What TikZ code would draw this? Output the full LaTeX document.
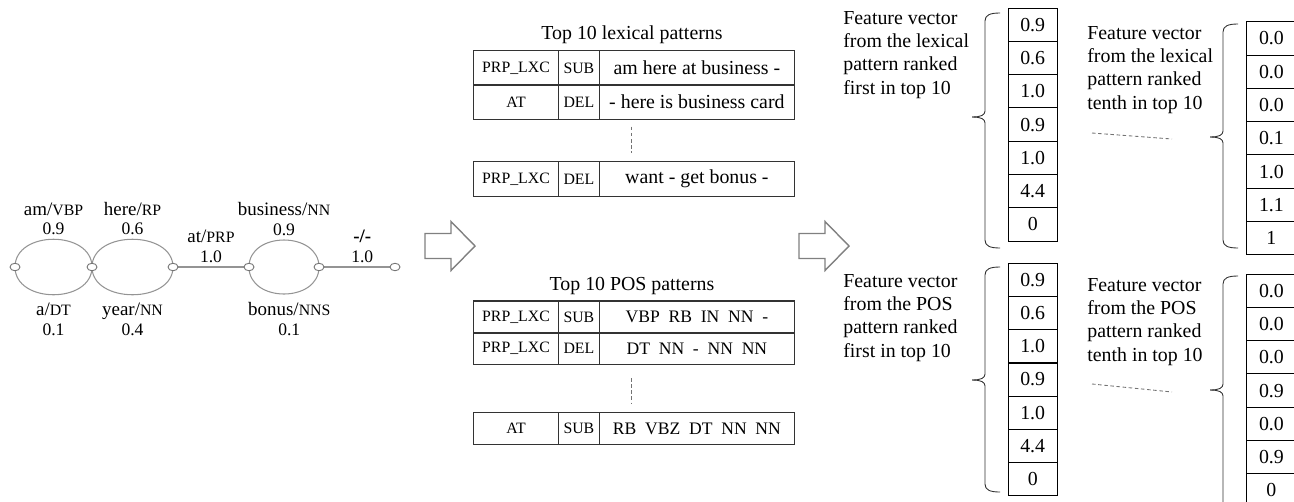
\documentclass[tikz,border=0pt]{standalone}
\usepackage{fontspec}
\setmainfont{Liberation Serif}
\usetikzlibrary{shapes.geometric,backgrounds}

\newcommand{\tagsz}{\fontsize{9}{10}\selectfont}
\newcommand{\wordsz}{\fontsize{10.8}{11.3}\selectfont}
\newcommand{\numsz}{\fontsize{10}{12.3}\selectfont}
\newcommand{\bodysz}{\fontsize{11.3}{13.2}\selectfont}
\newcommand{\possz}{\fontsize{10}{12}\selectfont}

% curly brace with the tip off centre: spine x, top, tip, bottom
\def\vecbrace(#1,#2,#3,#4){%
  \draw[vbrace] (#1+15,#2) .. controls (#1+5,#2) and (#1,#2+2) .. (#1,#2+8)
    -- (#1,#3-6) .. controls (#1,#3-2) and (#1-4,#3) .. (#1-13,#3);
  \draw[vbrace] (#1-13,#3) .. controls (#1-4,#3) and (#1,#3+2) .. (#1,#3+6)
    -- (#1,#4-8) .. controls (#1,#4-2) and (#1+5,#4) .. (#1+15,#4);}

% one row of a pattern table: name, y, height, three cells
\def\patrow#1#2#3#4#5#6{%
  \node[pcell, minimum width=1.7cm, minimum height=#3] (#1-a) at (516,#2) {\tagsz #4};
  \node[pcell, minimum width=0.816cm, minimum height=#3] (#1-b) at (578.9,#2) {\tagsz #5};
  \node[pcell, minimum width=3.904cm, minimum height=#3] (#1-c) at (696.9,#2) {#6};}

\tikzset{
  gnode/.style={ellipse, draw=black!55, fill=white, line width=0.5pt,
    minimum width=0.2cm, minimum height=0.15cm, inner sep=0pt},
  gedge/.style={draw=black!42, line width=0.6pt},
  glab/.style={align=center, inner sep=2pt, font=\wordsz},
  pcell/.style={draw=black!80, line width=0.8pt, inner sep=0pt},
  vcell/.style={draw=black, line width=0.5pt, minimum width=0.98cm,
    minimum height=0.666cm, inner sep=0pt, font=\bodysz},
  ftext/.style={align=left, inner sep=0pt, anchor=west, font=\bodysz},
  vbrace/.style={draw=black!80, line width=0.5pt},
  blockarrow/.style={draw=black!50, fill=white, line width=0.8pt, line join=miter},
  dotsep/.style={draw=black!55, dash pattern=on 2pt off 1.5pt, line width=0.5pt}
}

\begin{document}
\begin{tikzpicture}[x=0.02cm, y=-0.02cm]
			%%%%% START %%%%%
			\useasboundingbox (0,0) rectangle (1294,501);
			
			% word lattice
			\node[gnode] (n0) at (15,267) {};
			\node[gnode] (n1) at (92,267) {};
			\node[gnode] (n2) at (173,267) {};
			\node[gnode] (n3) at (249,267) {};
			\node[gnode] (n4) at (319,267) {};
			\node[gnode] (n5) at (395,267) {};
			
			\begin{scope}[on background layer]
				\draw[gedge] (n0.center) .. controls (15,230) and (92,230) .. (n1.center)
					node[glab, pos=0.5, above] (w-am) {am/{\tagsz VBP}\\\numsz 0.9};
				\draw[gedge] (n0.center) .. controls (15,304) and (92,304) .. (n1.center)
					node[glab, pos=0.5, below, yshift=-2.5pt] (w-a) {a/{\tagsz DT}\\\numsz 0.1};
				\draw[gedge] (n1.center) .. controls (92,230) and (173,230) .. (n2.center)
					node[glab, pos=0.5, above] (w-here) {here/{\tagsz RP}\\\numsz 0.6};
				\draw[gedge] (n1.center) .. controls (92,304) and (173,304) .. (n2.center)
					node[glab, pos=0.5, below, yshift=-2.5pt] (w-year) {year/{\tagsz NN}\\\numsz 0.4};
				\draw[gedge] (n2) -- (n3)
					node[glab, pos=0.5, above] (w-at) {at/{\tagsz PRP}\\\numsz 1.0};
				\draw[gedge] (n3.center) .. controls (249,231) and (319,231) .. (n4.center)
					node[glab, pos=0.5, above] (w-business) {business/{\tagsz NN}\\\numsz 0.9};
				\draw[gedge] (n3.center) .. controls (249,303) and (319,303) .. (n4.center)
					node[glab, pos=0.5, below, xshift=3pt, yshift=-2.5pt] (w-bonus) {bonus/{\tagsz NNS}\\\numsz 0.1};
				\draw[gedge] (n4) -- (n5)
					node[glab, pos=0.5, above, xshift=3pt] (w-end) {\textbf{-/-}\\\numsz 1.0};
			\end{scope}
			
			% block arrows
			\draw[blockarrow] (425,233.5) -- (451,233.5) -- (451,221.5) -- (475,246) -- (451,270.5) -- (451,258.5) -- (425,258.5) -- cycle;
			\draw[blockarrow] (799,233.5) -- (825,233.5) -- (825,221.5) -- (849,246) -- (825,270.5) -- (825,258.5) -- (799,258.5) -- cycle;
			
			% lexical patterns
			\node[font=\bodysz] (lex-title) at (632,35) {Top 10 lexical patterns};
			\patrow{lex1}{67.9}{0.686cm}{PRP\_LXC}{SUB}{\bodysz am here at business -}
			\patrow{lex2}{102.2}{0.686cm}{AT}{DEL}{\bodysz - here is business card}
			\draw[dotsep] (631.7,126.7) -- (631.7,153.3);
			\patrow{lex10}{179.2}{0.7cm}{PRP\_LXC}{DEL}{\bodysz want - get bonus -}
			
			% POS patterns
			\node[font=\bodysz] (pos-title) at (632,286) {Top 10 POS patterns};
			\patrow{pos1}{317}{0.634cm}{PRP\_LXC}{SUB}{\possz VBP~~RB~~IN~~NN~~-}
			\patrow{pos2}{348.7}{0.634cm}{PRP\_LXC}{DEL}{\possz DT~~NN~~-~~NN~~NN}
			\draw[dotsep] (631.7,378) -- (631.7,403);
			\patrow{pos10}{428.5}{0.634cm}{AT}{SUB}{\possz RB~~VBZ~~DT~~NN~~NN}
			
			% feature vectors
			\node[ftext] (f-lex1) at (843,55) {Feature vector\\from the lexical\\pattern ranked\\first in top 10};
			\vecbrace(985,13,117,248)
			\foreach \v [count=\i from 0] in {0.9,0.6,1.0,0.9,1.0,4.4,0}
				\node[vcell] (va-\i) at (1032.7,24.65+33.3*\i) {\v};
			
			\node[ftext] (f-lex10) at (1087,70) {Feature vector\\from the lexical\\pattern ranked\\tenth in top 10};
			\draw[dotsep] (1092,133) -- (1172,139);
			\vecbrace(1223,24,137,248)
			\foreach \v [count=\i from 0] in {0.0,0.0,0.0,0.1,1.0,1.1,1}
				\node[vcell] (vb-\i) at (1271.4,38.35+33.3*\i) {\v};
			
			\node[ftext] (f-pos1) at (843,318) {Feature vector\\from the POS\\pattern ranked\\first in top 10};
			\vecbrace(985,267,380,492)
			\foreach \v [count=\i from 0] in {0.9,0.6,1.0,0.9,1.0,4.4,0}
				\node[vcell] (vc-\i) at (1032.7,279.9+33.2*\i) {\v};
			
			\node[ftext] (f-pos10) at (1087,322) {Feature vector\\from the POS\\pattern ranked\\tenth in top 10};
			\draw[dotsep] (1092,384) -- (1172,392);
			\vecbrace(1223,276,390,520)
			\foreach \v [count=\i from 0] in {0.0,0.0,0.0,0.9,0.0,0.9,0}
				\node[vcell] (vd-\i) at (1271.4,290.65+33.3*\i) {\v};
			
			%%%%% END %%%%%
\end{tikzpicture}
\end{document}
